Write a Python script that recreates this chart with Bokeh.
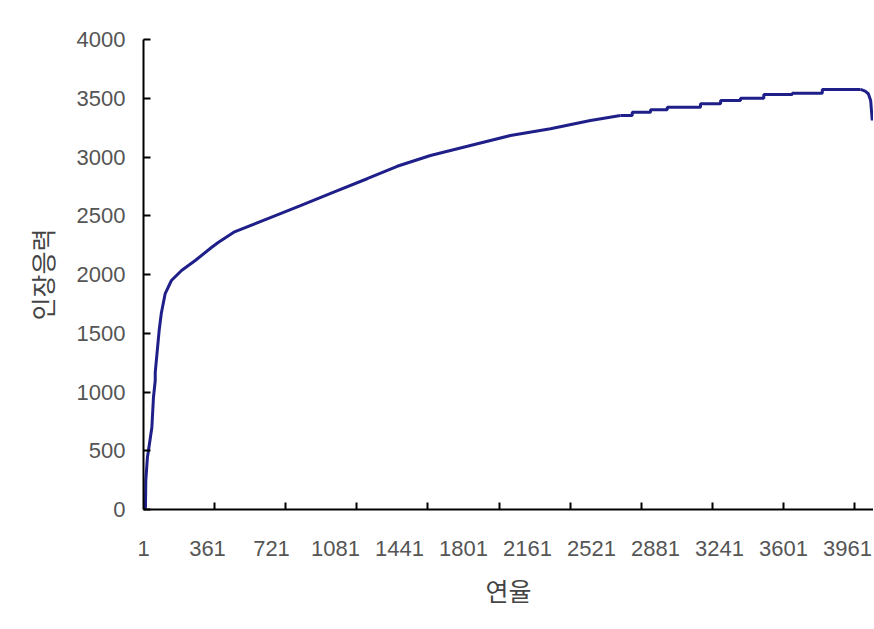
from bokeh.plotting import figure
from bokeh.models import Range1d, FixedTicker
from bokeh.embed import file_html
from bokeh.resources import INLINE

# strain index (연율) vs tensile stress (인장응력)
strain_main = [1, 12, 14, 23, 29, 48, 57, 67, 67, 89, 101, 123, 158, 215, 292, 385, 423,
               509, 697, 884, 1071, 1259, 1428, 1615, 1840, 2065, 2290, 2515, 2684]
stress_main = [0, 17, 247, 443, 502, 698, 953, 1098, 1166, 1523, 1668, 1838, 1949, 2034, 2119,
               2232, 2275, 2360, 2474, 2587, 2701, 2815, 2921, 3013, 3098, 3183, 3240, 3311, 3353]

strain_steps = [2684, 2750, 2853, 2947, 3134, 3247, 3359, 3490, 3650, 3819, 4034]
stress_steps = [3353, 3381, 3402, 3424, 3453, 3481, 3501, 3532, 3543, 3575, 3575]

strain_end = [4034, 4060, 4078, 4091, 4100]
stress_end = [3575, 3560, 3538, 3481, 3311]

x_label_ticks = [1, 361, 721, 1081, 1441, 1801, 2161, 2521, 2881, 3241, 3601, 3961]
x_mark_ticks = [401, 801, 1201, 1601, 2001, 2401, 2801, 3201, 3601, 4001]
y_ticks = [0, 500, 1000, 1500, 2000, 2500, 3000, 3500, 4000]

LINE = "#1f1f8a"

p = figure(width=873, height=620, output_backend="svg", toolbar_location=None,
           x_range=Range1d(1, 4107), y_range=Range1d(0, 4000),
           min_border_left=143, min_border_right=0, min_border_top=39, min_border_bottom=111)
p.outline_line_color = None
p.xgrid.grid_line_color = None
p.ygrid.grid_line_color = None
p.background_fill_color = "white"
p.border_fill_color = "white"

p.line(strain_main, stress_main, line_color=LINE, line_width=3)
p.step(strain_steps, stress_steps, mode="after", line_color=LINE, line_width=3)
p.line(strain_end, stress_end, line_color=LINE, line_width=3)

xa = p.xaxis[0]
xa.ticker = FixedTicker(ticks=x_label_ticks, minor_ticks=x_mark_ticks)
xa.major_tick_in = 0
xa.major_tick_out = 0
xa.minor_tick_in = 7
xa.minor_tick_out = 0
xa.minor_tick_line_width = 2
xa.minor_tick_line_color = "black"
xa.axis_line_width = 2
xa.axis_line_color = "black"
xa.major_label_text_font = "Liberation Sans"
xa.major_label_text_font_size = "22px"
xa.major_label_text_color = "#555555"
xa.major_label_standoff = 31
xa.axis_label = "연율"
xa.axis_label_text_font = "Noto Sans CJK KR"
xa.axis_label_text_font_size = "25px"
xa.axis_label_text_font_style = "normal"
xa.axis_label_text_color = "#444444"
xa.axis_label_standoff = 13

ya = p.yaxis[0]
ya.ticker = FixedTicker(ticks=y_ticks, minor_ticks=[])
ya.major_tick_in = 7
ya.major_tick_out = 0
ya.major_tick_line_width = 2
ya.major_tick_line_color = "black"
ya.minor_tick_in = 0
ya.minor_tick_out = 0
ya.axis_line_width = 2
ya.axis_line_color = "black"
ya.major_label_text_font = "Liberation Sans"
ya.major_label_text_font_size = "22px"
ya.major_label_text_color = "#555555"
ya.major_label_standoff = 18
ya.axis_label = "인장응력"
ya.axis_label_text_font = "Noto Sans CJK KR"
ya.axis_label_text_font_size = "25px"
ya.axis_label_text_font_style = "normal"
ya.axis_label_text_color = "#444444"
ya.axis_label_standoff = 14

open("out.html", "w").write(file_html(p, INLINE))
